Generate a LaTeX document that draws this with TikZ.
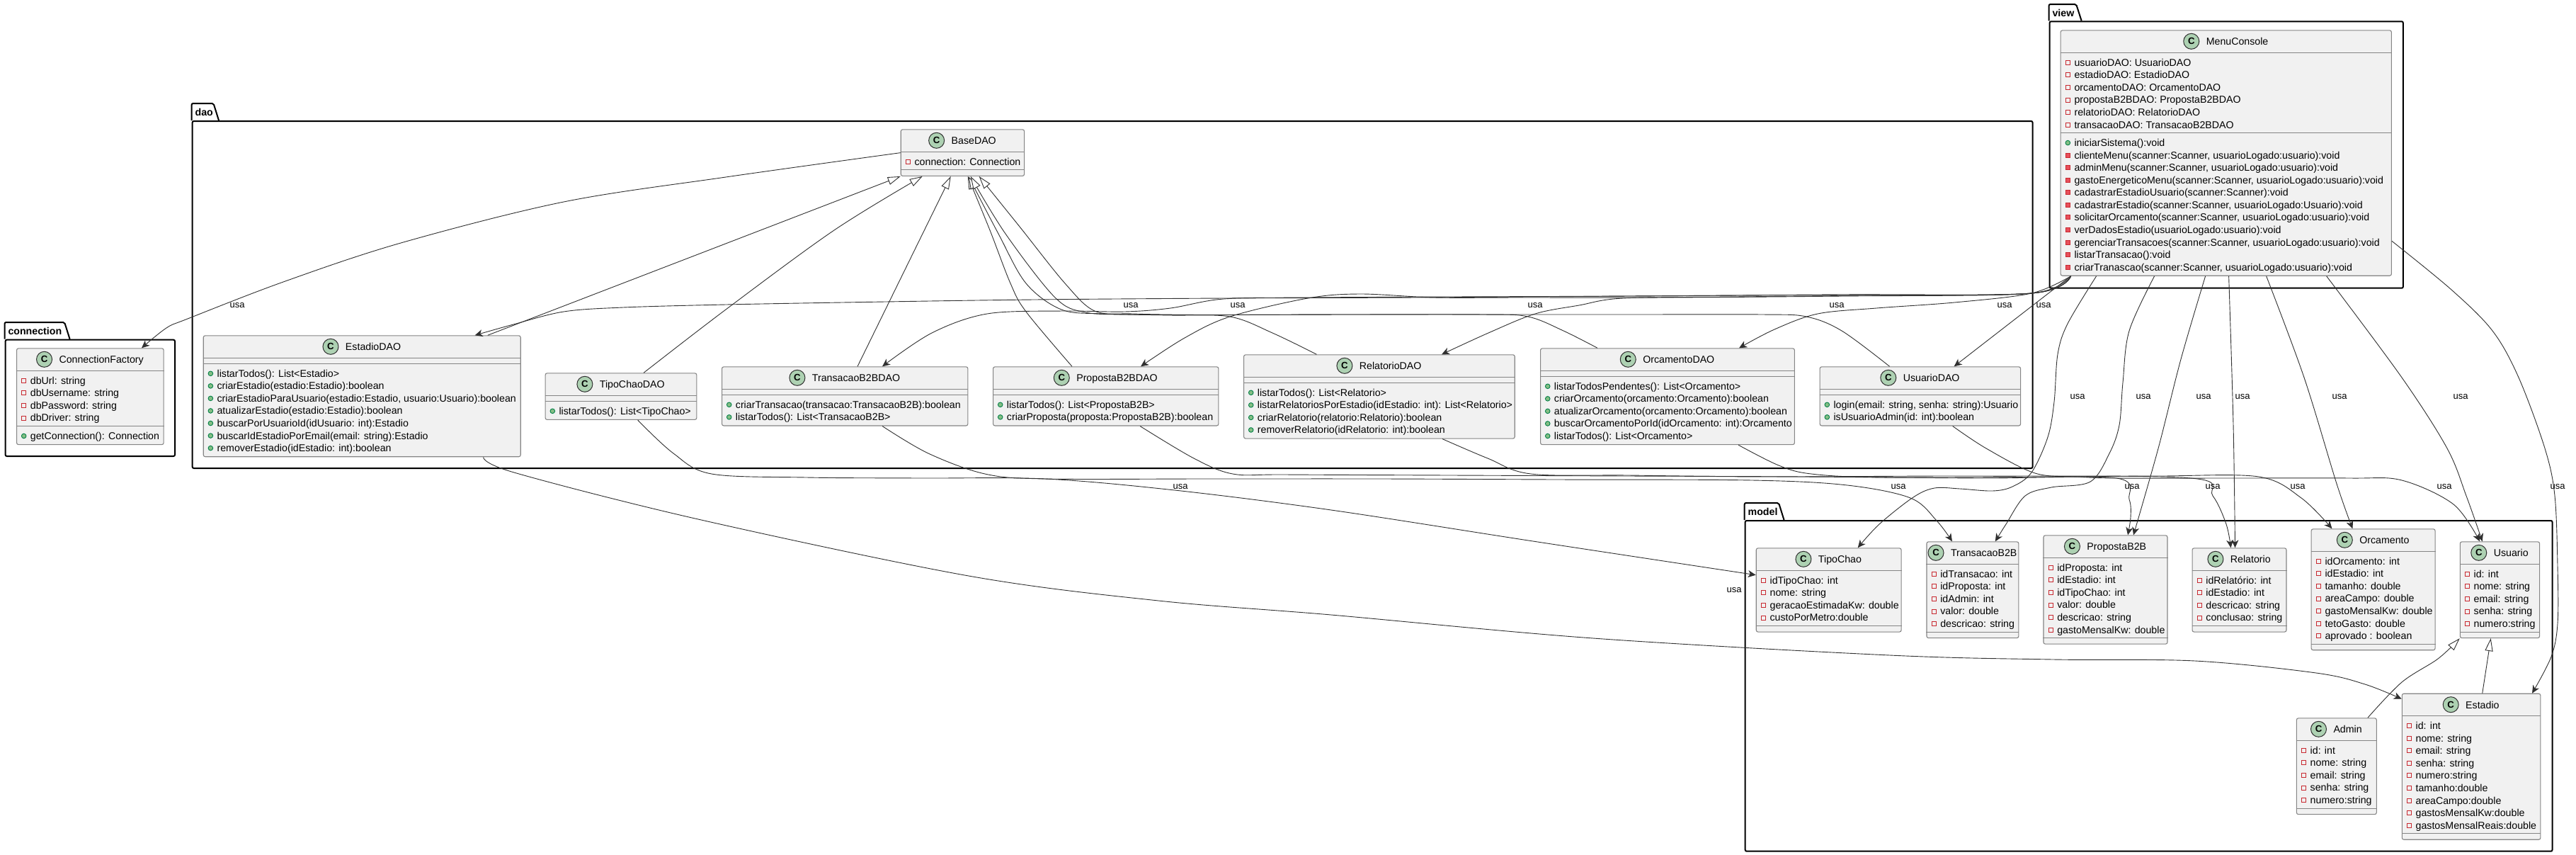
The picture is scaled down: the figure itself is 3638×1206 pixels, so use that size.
\documentclass[tikz,border=0pt]{standalone}
\usepackage{fontspec}
\setmainfont{Liberation Sans}
\usetikzlibrary{arrows.meta,calc}
\definecolor{classfill}{HTML}{F1F1F1}
\definecolor{classedge}{HTML}{858585}
\definecolor{linkcolor}{HTML}{303030}
\definecolor{markgreen}{HTML}{ADD1B2}
\definecolor{redmark}{HTML}{C82930}
\definecolor{redfill}{HTML}{E8505C}
\definecolor{pubedge}{HTML}{038048}
\definecolor{pubfill}{HTML}{84BE84}
\tikzset{
	classbox/.style={draw=classedge,fill=classfill,line width=.55pt,rounded corners=1.25pt,inner sep=0pt,anchor=north west},
	sepline/.style={draw=classedge,line width=.55pt},
	classmark/.style={circle,draw=linkcolor,fill=markgreen,line width=.5pt,minimum size=11pt,inner sep=0pt,font=\fontsize{6.6}{7}\selectfont\bfseries},
	titletext/.style={anchor=base,inner sep=0pt,font=\fontsize{7.1}{8}\selectfont},
	rowtext/.style={anchor=base west,inner sep=0pt,font=\fontsize{7.1}{8}\selectfont},
	attrmark/.style={draw=redmark,line width=.45pt,minimum size=3pt,inner sep=0pt},
	privmark/.style={draw=redmark,fill=redfill,line width=.45pt,minimum size=3pt,inner sep=0pt},
	pubmark/.style={circle,draw=pubedge,fill=pubfill,line width=.45pt,minimum size=3.3pt,inner sep=0pt},
	pkgbox/.style={draw=black,line width=1pt,rounded corners=1pt,inner sep=0pt,anchor=north west},
	pkgtab/.style={draw=black,line width=1pt,rounded corners=1pt},
	pkglabel/.style={anchor=base west,inner sep=0pt,font=\fontsize{7.1}{8}\selectfont\bfseries},
	usalabel/.style={inner sep=0pt,font=\fontsize{6.5}{7}\selectfont},
	usesline/.style={draw=linkcolor,line width=.45pt,smooth,tension=.55,-{Stealth[length=5.5pt,width=5pt,inset=1.6pt]}},
	isaline/.style={draw=linkcolor,line width=.45pt,smooth,tension=.55,-{Triangle[length=9pt,width=5.6pt,fill=white]}}
}
\newcommand{\rowh}{17.55}
\newcommand{\umlpackage}[8]{
	\node[pkgbox,minimum width={(#5-#2)*.5pt},minimum height={(#6-#4)*.5pt}] (#1) at (#2,#4) {};
	\draw[pkgtab] (#1.north west) |- ($(#1.north west)+(#7-7.5,#3-#4)$) -- ($(#1.north west)+(#7,0)$);
	\node[pkglabel] (#1-label) at ($(#1.north west)+(4.5,#3-#4+17.5)$) {#8};
}
\newcommand{\umlclass}[9]{
	\pgfmathsetmacro{\attrh}{#6*\rowh+8}
	\pgfmathsetmacro{\methh}{#8*\rowh+8}
	\node[classbox,minimum width={#4*.5pt},minimum height={(32+\attrh+\methh)*.5pt}] (#1) at (#2,#3) {};
	\draw[sepline] ($(#1.north west)+(0,32)$) -- ($(#1.north east)+(0,32)$);
	\draw[sepline] ($(#1.north west)+(0,{32+\attrh})$) -- ($(#1.north east)+(0,{32+\attrh})$);
	\node[titletext] (#1-title) at ($(#1.north)+(15.8,21.5)$) {#5};
	\node[classmark] (#1-mark) at ($(#1.north -| #1-title.west)+(-20.6,16)$) {C};
	\ifnum#6>0
		\foreach \ic/\tx [count=\n] in {#7} {
			\node[style=\ic] (#1-am\n) at ($(#1.north west)+(10.7,{46+(\n-1)*\rowh})$) {};
			\node[rowtext] (#1-a\n) at ($(#1-am\n)+(8.8,5)$) {\tx};
		}
	\fi
	\ifnum#8>0
		\foreach \ic/\tx [count=\n] in {#9} {
			\node[style=\ic] (#1-mm\n) at ($(#1.north west)+(10.7,{46+\attrh+(\n-1)*\rowh})$) {};
			\node[rowtext] (#1-m\n) at ($(#1-mm\n)+(8.8,5)$) {\tx};
		}
	\fi
}
\begin{document}
\begin{tikzpicture}[x=.5pt,y=-.5pt]
	\useasboundingbox (0,0) rectangle (3638,1206);
	\umlpackage{connection}{6.6}{455}{478.7}{246}{643}{92}{connection}
	\umlpackage{dao}{270.7}{146}{170}{2869.5}{660}{38.3}{dao}
	\umlpackage{view}{2893.6}{6}{29.3}{3392.8}{405.7}{46}{view}
	\umlpackage{model}{2463.7}{710}{734}{3603.5}{1200.7}{55.8}{model}

	\umlclass{ConnectionFactory}{23}{491.3}{207.6}{ConnectionFactory}{4}{attrmark/dbUrl: string,attrmark/dbUsername: string,attrmark/dbPassword: string,attrmark/dbDriver: string}{1}{pubmark/getConnection(): Connection}
	\umlclass{BaseDAO}{1271.7}{182.3}{174.3}{BaseDAO}{1}{attrmark/connection: Connection}{0}{}
	\umlclass{EstadioDAO}{286.7}{473.3}{448}{EstadioDAO}{0}{}{7}{pubmark/listarTodos(): List<Estadio>,pubmark/criarEstadio(estadio:Estadio):boolean,{pubmark/criarEstadioParaUsuario(estadio:Estadio, usuario:Usuario):boolean},pubmark/atualizarEstadio(estadio:Estadio):boolean,pubmark/buscarPorUsuarioId(idUsuario: int):Estadio,pubmark/buscarIdEstadioPorEmail(email: string):Estadio,pubmark/removerEstadio(idEstadio: int):boolean}
	\umlclass{TipoChaoDAO}{769.6}{526.3}{213.7}{TipoChaoDAO}{0}{}{1}{pubmark/listarTodos(): List<TipoChao>}
	\umlclass{TransacaoB2BDAO}{1019}{517.3}{347.3}{TransacaoB2BDAO}{0}{}{2}{pubmark/criarTransacao(transacao:TransacaoB2B):boolean,pubmark/listarTodos(): List<TransacaoB2B>}
	\umlclass{PropostaB2BDAO}{1402}{517.3}{318.3}{PropostaB2BDAO}{0}{}{2}{pubmark/listarTodos(): List<PropostaB2B>,pubmark/criarProposta(proposta:PropostaB2B):boolean}
	\umlclass{RelatorioDAO}{1756}{500.3}{382.7}{RelatorioDAO}{0}{}{4}{pubmark/listarTodos(): List<Relatorio>,pubmark/listarRelatoriosPorEstadio(idEstadio: int): List<Relatorio>,pubmark/criarRelatorio(relatorio:Relatorio):boolean,pubmark/removerRelatorio(idRelatorio: int):boolean}
	\umlclass{OrcamentoDAO}{2175}{491.3}{358.8}{OrcamentoDAO}{0}{}{5}{pubmark/listarTodosPendentes(): List<Orcamento>,pubmark/criarOrcamento(orcamento:Orcamento):boolean,pubmark/atualizarOrcamento(orcamento:Orcamento):boolean,pubmark/buscarOrcamentoPorId(idOrcamento: int):Orcamento,pubmark/listarTodos(): List<Orcamento>}
	\umlclass{UsuarioDAO}{2569.6}{517.3}{283.4}{UsuarioDAO}{0}{}{2}{{pubmark/login(email: string, senha: string):Usuario},pubmark/isUsuarioAdmin(id: int):boolean}
	\umlclass{MenuConsole}{2909.6}{42.3}{467.2}{MenuConsole}{6}{attrmark/usuarioDAO: UsuarioDAO,attrmark/estadioDAO: EstadioDAO,attrmark/orcamentoDAO: OrcamentoDAO,attrmark/propostaB2BDAO: PropostaB2BDAO,attrmark/relatorioDAO: RelatorioDAO,attrmark/transacaoDAO: TransacaoB2BDAO}{11}{pubmark/iniciarSistema():void,{privmark/clienteMenu(scanner:Scanner, usuarioLogado:usuario):void},{privmark/adminMenu(scanner:Scanner, usuarioLogado:usuario):void},{privmark/gastoEnergeticoMenu(scanner:Scanner, usuarioLogado:usuario):void},privmark/cadastrarEstadioUsuario(scanner:Scanner):void,{privmark/cadastrarEstadio(scanner:Scanner, usuarioLogado:Usuario):void},{privmark/solicitarOrcamento(scanner:Scanner, usuarioLogado:usuario):void},privmark/verDadosEstadio(usuarioLogado:usuario):void,{privmark/gerenciarTransacoes(scanner:Scanner, usuarioLogado:usuario):void},privmark/listarTransacao():void,{privmark/criarTranascao(scanner:Scanner, usuarioLogado:usuario):void}}
	\umlclass{TipoChao}{2479.7}{773.3}{204.8}{TipoChao}{4}{attrmark/idTipoChao: int,attrmark/nome: string,attrmark/geracaoEstimadaKw: double,attrmark/custoPorMetro:double}{0}{}
	\umlclass{TransacaoB2B}{2720.4}{764.3}{129.9}{TransacaoB2B}{5}{attrmark/idTransacao: int,attrmark/idProposta: int,attrmark/idAdmin: int,attrmark/valor: double,attrmark/descricao: string}{0}{}
	\umlclass{PropostaB2B}{2885.4}{755.3}{175}{PropostaB2B}{6}{attrmark/idProposta: int,attrmark/idEstadio: int,attrmark/idTipoChao: int,attrmark/valor: double,attrmark/descricao: string,attrmark/gastoMensalKw: double}{0}{}
	\umlclass{Relatorio}{3095.5}{773.3}{132.9}{Relatorio}{4}{attrmark/idRelatório: int,attrmark/idEstadio: int,attrmark/descricao: string,attrmark/conclusao: string}{0}{}
	\umlclass{Orcamento}{3263.6}{746.3}{174.9}{Orcamento}{7}{attrmark/idOrcamento: int,attrmark/idEstadio: int,attrmark/tamanho: double,attrmark/areaCampo: double,attrmark/gastoMensalKw: double,attrmark/tetoGasto: double,attrmark/aprovado : boolean}{0}{}
	\umlclass{Usuario}{3473.7}{764.3}{112.3}{Usuario}{5}{attrmark/id: int,attrmark/nome: string,attrmark/email: string,attrmark/senha: string,attrmark/numero:string}{0}{}
	\umlclass{Admin}{3242.8}{1013.3}{112.9}{Admin}{5}{attrmark/id: int,attrmark/nome: string,attrmark/email: string,attrmark/senha: string,attrmark/numero:string}{0}{}
	\umlclass{Estadio}{3391.7}{978.7}{195.6}{Estadio}{9}{attrmark/id: int,attrmark/nome: string,attrmark/email: string,attrmark/senha: string,attrmark/numero:string,attrmark/tamanho:double,attrmark/areaCampo:double,attrmark/gastosMensalKw:double,attrmark/gastosMensalReais:double}{0}{}

	\draw[usesline] plot coordinates {(BaseDAO.west) (1025,250) (796,285) (566,343) (400,398) (265,450) (235,463) ($(ConnectionFactory.north west)+(177,0)$)};

	\draw[isaline] plot coordinates {($(EstadioDAO.north west)+(402,0)$) (BaseDAO.south west)};
	\draw[isaline] plot coordinates {($(TipoChaoDAO.north west)+(139.4,0)$) (1025,437) (1178,325) ($(BaseDAO.south west)+(31,0)$)};
	\draw[isaline] plot coordinates {($(TransacaoB2BDAO.north west)+(192,0)$) ($(BaseDAO.south west)+(71,0)$)};
	\draw[isaline] plot coordinates {($(PropostaB2BDAO.north west)+(112,0)$) (1449,440) (1427,400) (1398,325) ($(BaseDAO.south west)+(95,0)$)};
	\draw[isaline] plot coordinates {($(RelatorioDAO.north west)+(103.5,0)$) (1797,470) (1737,447) (1653,445) (1558,443) (1499,437) (1449,400) (1410,330) ($(BaseDAO.south west)+(96,0)$)};
	\draw[isaline] plot coordinates {($(OrcamentoDAO.north west)+(81,0)$) (2208,467) (2158,447) (2096,444) (1900,444) (1700,444.5) (1600,444) (1533,441) (1490,420) (1420,330) ($(BaseDAO.south west)+(99,0)$)};
	\draw[isaline] plot coordinates {($(UsuarioDAO.north west)+(99,0)$) (2601,467) (2551,447) (2489,444) (2300,444) (2100,444) (1900,444) (1700,444.5) (1600,443) (1546,439) (1504,400) (1440,320) ($(BaseDAO.south west)+(111,0)$)};
	\draw[isaline] plot coordinates {($(Admin.north west)+(101,0)$) (3392,963) (3443,930) (Usuario.south west)};
	\draw[isaline] plot coordinates {($(Estadio.north west)+(114,0)$) ($(Usuario.south west)+(44,0)$)};

	\draw[usesline] plot coordinates {($(MenuConsole.south west)+(15,0)$) (2880,424) ($(UsuarioDAO.north west)+(190,0)$)};
	\draw[usesline] plot coordinates {($(MenuConsole.south west)+(15,0)$) (2869,414) (2760,427) (2650,435) (2567,443) (2506,465) ($(OrcamentoDAO.north west)+(281,0)$)};
	\draw[usesline] plot coordinates {($(MenuConsole.south west)+(15,0)$) (2869,414) (2650,417) (2450,419) (2292,421) (2230,431) (2168,443) (2102,470) ($(RelatorioDAO.north west)+(280,0)$)};
	\draw[usesline] plot coordinates {($(MenuConsole.south west)+(15,0)$) (2869,414) (2600,418) (2350,420) (2150,420) (2026,420) (1921,415) (1847,421) (1737,447) (1673,477) ($(PropostaB2BDAO.north west)+(209,0)$)};
	\draw[usesline] plot coordinates {($(MenuConsole.south west)+(15,0)$) (2869,414) (2600,416) (2300,418) (2050,419) (1850,420) (1728,422) (1653,435) (1588,440) (1500,439) (1394,443) (1316,470) ($(TransacaoB2BDAO.north west)+(227,0)$)};
	\draw[usesline] plot coordinates {($(MenuConsole.south west)+(15,0)$) (2869,414) (2600,416) (2300,418) (2000,420) (1728,421) (1460,423) (1250,426) (1025,430) (880,434) (796,440) (725,458) ($(EstadioDAO.north west)+(384,0)$)};

	\draw[usesline] plot coordinates {($(MenuConsole.south west)+(51,0)$) (2920,457) (2906,500) (2901,567) (2892,617) (2869,667) (2842,687) (2814,693) (2768,690) (2732,689) (2702,702) (2654,740) ($(TipoChao.north west)+(144,0)$)};
	\draw[usesline] plot coordinates {($(MenuConsole.south west)+(133,0)$) (3007,467) (2998,540) (2993,600) (2979,640) (2952,680) (2897,688) (2860,700) (2833,740) ($(TransacaoB2B.north west)+(97.4,0)$)};
	\draw[usesline] plot coordinates {($(MenuConsole.south west)+(205,0)$) (3080,507) (3048,633) ($(PropostaB2B.north west)+(127.6,0)$)};
	\draw[usesline] plot coordinates {($(MenuConsole.south west)+(238,0)$) (3154,600) ($(Relatorio.north west)+(61,0)$)};
	\draw[usesline] plot coordinates {($(MenuConsole.south west)+(291,0)$) (3254,533) (3300,683) ($(Orcamento.north west)+(58.8,0)$)};
	\draw[usesline] plot coordinates {($(MenuConsole.south west)+(376,0)$) (3392,533) (3456,633) (3483,700) ($(Usuario.north west)+(32,0)$)};
	\draw[usesline] plot coordinates {($(MenuConsole.north east)+(0,298)$) (3462,409) (3520,467) (3557,533) (3594,633) (3608,700) (3612,800) (3612,880) (3603,927) ($(Estadio.north west)+(184.3,0)$)};

	\draw[usesline] plot coordinates {($(EstadioDAO.south west)+(396,0)$) (726,667) (986,733) (1368,813) (1636,848) (1880,868) (2250,901) (2669,925) (2900,931) (3100,933) (3271,950) (3340,966) ($(Estadio.north west)+(0,8)$)};
	\draw[usesline] plot coordinates {($(TipoChaoDAO.south west)+(131,0)$) (951,640) (1005,669) (1139,674) (1300,675) (1476,676) (1659,692) (1880,720) (2165,764) ($(TipoChao.north west)+(0,38.4)$)};
	\draw[usesline] plot coordinates {($(TransacaoB2BDAO.south west)+(227,0)$) (1311,640) (1391,669) (1476,676) (1700,676) (1950,676) (2200,677) (2475,678) (2609,685) (2698,703) (2735,735) ($(TransacaoB2B.north west)+(36.6,0)$)};
	\draw[usesline] plot coordinates {($(PropostaB2BDAO.south west)+(208,0)$) (1686,647) (1741,669) (1814,670) (2050,671) (2300,672) (2550,673) (2800,675) (2989,675) (3007,705) (3009,730) ($(PropostaB2B.north west)+(119.6,0)$)};
	\draw[usesline] plot coordinates {($(RelatorioDAO.south west)+(281,0)$) (2101,647) (2162,669) (2300,671) (2500,673) (2800,672) (3094,675) (3125,700) (3144,740) ($(Relatorio.north west)+(55,0)$)};
	\draw[usesline] plot coordinates {($(OrcamentoDAO.south west)+(280,0)$) (2512,657) (2558,669) (2658,674) (2900,673) (3050,672) (3190,673) (3250,703) ($(Orcamento.north west)+(29.8,0)$)};
	\draw[usesline] plot coordinates {($(UsuarioDAO.south west)+(188,0)$) (2805,633) (2874,668) (2934,673) (2989,675) (3150,675) (3319,675) (3392,678) (3465,712) ($(Usuario.north west)+(28.3,0)$)};

	\foreach \ux/\uy [count=\n] in {335/431,1597/431,1748/431,2168/431,2594/431,2831/431,2886/431,2934/560,3027/560,3112/560,3167/560,3304/560,3475/560,3612/687,1667/687,2681/687,3011/687,3125/687,3245/687,3452/687,2449/833} {
		\node[usalabel] (usa\n) at (\ux,\uy) {usa};
	}
\end{tikzpicture}
\end{document}
